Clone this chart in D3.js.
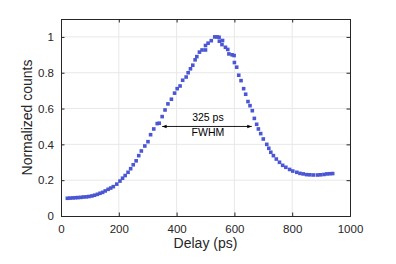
<!DOCTYPE html>
<html>
<head>
<meta charset="utf-8">
<script src="https://cdn.jsdelivr.net/npm/d3@7/dist/d3.min.js"></script>
<style>
  body { margin: 0; background: #fff; }
  svg text { font-family: "Liberation Sans", Arial, Helvetica, sans-serif; fill: #262626; }
</style>
</head>
<body>
<div id="chart"></div>
<script>
// delay (ps) and normalized counts
var delays = [22, 31, 41, 50, 59, 69, 78, 88, 97, 107, 116, 126, 135, 144, 153, 163, 172, 181, 193, 204,
	213, 222, 232, 241, 250, 260, 269, 278, 290, 301, 310, 321, 333, 340, 350, 360, 370, 382, 393, 402,
	412, 421, 433, 440, 448, 456, 464, 470, 479, 488, 500, 500, 509, 520, 532, 540, 547, 548, 559, 557,
	569, 577, 581, 592, 599, 600, 608, 615, 623, 632, 639, 647, 654, 662, 669, 677, 683, 691, 700, 712,
	719, 726, 735, 745, 756, 767, 778, 791, 802, 816, 827, 838, 850, 861, 873, 887, 898, 910, 920, 930, 940];
var counts = [0.099, 0.100, 0.101, 0.102, 0.103, 0.104, 0.106, 0.107, 0.109, 0.112, 0.116, 0.121, 0.127, 0.132, 0.140, 0.149, 0.156, 0.164, 0.178, 0.195,
	0.211, 0.226, 0.244, 0.264, 0.286, 0.308, 0.337, 0.363, 0.391, 0.415, 0.454, 0.486, 0.516, 0.518, 0.555, 0.592, 0.626, 0.652, 0.686, 0.711,
	0.726, 0.758, 0.776, 0.800, 0.822, 0.842, 0.872, 0.890, 0.915, 0.927, 0.927, 0.952, 0.965, 0.979, 1.000, 1.000, 0.998, 0.976, 0.980, 0.957,
	0.942, 0.930, 0.905, 0.900, 0.896, 0.857, 0.831, 0.786, 0.756, 0.711, 0.680, 0.639, 0.616, 0.588, 0.545, 0.512, 0.486, 0.460, 0.430, 0.400,
	0.378, 0.356, 0.337, 0.318, 0.300, 0.283, 0.272, 0.260, 0.251, 0.244, 0.238, 0.235, 0.231, 0.230, 0.229, 0.229, 0.230, 0.232, 0.235, 0.236, 0.237];

var xTicks = [0, 200, 400, 600, 800, 1000];
var yTicks = [0, 0.2, 0.4, 0.6, 0.8, 1];

// FWHM annotation
var fwhmLabel = "325 ps";
var fwhmStart = 350, fwhmEnd = 660, fwhmLevel = 0.5;

var W = 396, H = 264;
var margin = {top: 19, right: 46, bottom: 48, left: 61};
var width = W - margin.left - margin.right,
	height = H - margin.top - margin.bottom;

var svg = d3.select("#chart").append("svg")
	.attr("width", W)
	.attr("height", H);

var defs = svg.append("defs");
defs.append("marker")
	.attr("id", "head")
	.attr("viewBox", "0 0 10 10")
	.attr("refX", 10).attr("refY", 5)
	.attr("markerWidth", 5).attr("markerHeight", 5)
	.attr("orient", "auto-start-reverse")
	.append("path")
	.attr("d", "M0,1 L10,5 L0,9 Z")
	.style("fill", "#000");

var g = svg.append("g")
	.attr("transform", "translate(" + margin.left + "," + margin.top + ")");

var x = d3.scaleLinear().domain([0, 1000]).range([0, width]);
var y = d3.scaleLinear().domain([0, 1.1]).range([height, 0]);

// grid
g.append("g").selectAll("line.gx")
	.data(xTicks.slice(1, -1))
	.enter().append("line")
	.attr("x1", function(d){ return x(d); }).attr("x2", function(d){ return x(d); })
	.attr("y1", 0).attr("y2", height)
	.style("stroke", "#e8e8e8");
g.append("g").selectAll("line.gy")
	.data(yTicks.slice(1))
	.enter().append("line")
	.attr("x1", 0).attr("x2", width)
	.attr("y1", function(d){ return y(d); }).attr("y2", function(d){ return y(d); })
	.style("stroke", "#e8e8e8");

var tickLen = 3.5;
var fmt = function(d){ return d3.format("")(d); };

var xAxis = g.append("g")
	.attr("transform", "translate(0," + height + ")")
	.call(d3.axisBottom(x).tickValues(xTicks).tickSize(-tickLen).tickPadding(9).tickFormat(fmt));
var xTop = g.append("g")
	.call(d3.axisTop(x).tickValues(xTicks).tickSize(-tickLen).tickFormat(""));
var yAxis = g.append("g")
	.call(d3.axisLeft(y).tickValues(yTicks).tickSize(-tickLen).tickPadding(7).tickFormat(fmt));
var yRight = g.append("g")
	.attr("transform", "translate(" + width + ",0)")
	.call(d3.axisRight(y).tickValues(yTicks).tickSize(-tickLen).tickFormat(""));

[xAxis, xTop, yAxis, yRight].forEach(function(a){
	a.selectAll("path.domain").style("stroke", "#262626");
	a.selectAll(".tick line").style("stroke", "#262626");
	a.selectAll("text").style("font-size", "11.5px").style("fill", "#262626")
		.style("font-family", "'Liberation Sans', Arial, sans-serif");
});

// data markers
var pts = delays.map(function(d, i){ return {t: d, c: counts[i]}; });
var ms = 3.6;
g.append("g").selectAll("rect")
	.data(pts)
	.enter().append("rect")
	.attr("x", function(d){ return x(d.t) - ms / 2; })
	.attr("y", function(d){ return y(d.c) - ms / 2; })
	.attr("width", ms).attr("height", ms)
	.style("fill", "#4b56d4");

// FWHM arrow
g.append("line")
	.attr("x1", x(fwhmStart)).attr("x2", x(fwhmEnd))
	.attr("y1", y(fwhmLevel)).attr("y2", y(fwhmLevel))
	.style("stroke", "#000").style("stroke-width", 0.9)
	.attr("marker-start", "url(#head)")
	.attr("marker-end", "url(#head)");

var midX = x((fwhmStart + fwhmEnd) / 2);
g.append("text")
	.attr("x", midX + 1).attr("y", y(fwhmLevel) - 5.5)
	.attr("text-anchor", "middle")
	.style("font-size", "10.5px").style("fill", "#000")
	.text(fwhmLabel);
g.append("text")
	.attr("x", midX + 1).attr("y", y(fwhmLevel) + 9.5)
	.attr("text-anchor", "middle")
	.style("font-size", "10.5px").style("fill", "#000")
	.text("FWHM");

// axis titles
g.append("text")
	.attr("x", width / 2).attr("y", height + 32)
	.attr("text-anchor", "middle")
	.style("font-size", "14px")
	.text("Delay (ps)");
g.append("text")
	.attr("transform", "translate(-29," + (height / 2) + ") rotate(-90)")
	.attr("text-anchor", "middle")
	.style("font-size", "14px")
	.text("Normalized counts");
</script>
</body>
</html>
